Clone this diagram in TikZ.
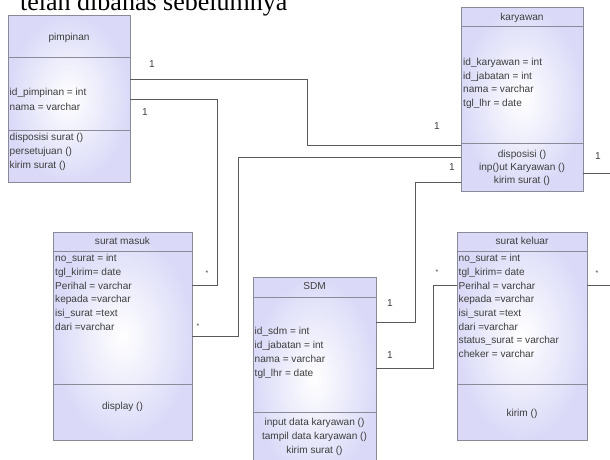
\documentclass[tikz,border=0pt]{standalone}
\usepackage{fontspec}
\setmainfont{Liberation Serif}
\newfontfamily\umlfont{Liberation Sans}
\definecolor{umlfill}{RGB}{218,218,248}
\definecolor{umlline}{RGB}{138,138,152}
\definecolor{linkgray}{RGB}{90,90,90}
\definecolor{umltext}{RGB}{62,62,62}
\begin{document}
\begin{tikzpicture}[x=1pt,y=-1pt,
    classbox/.style={draw=umlline,line width=0.8pt,inner color=white,outer color=umlfill,
      anchor=north west,inner sep=0pt,outer sep=0pt},
    divider/.style={draw=umlline,line width=0.8pt},
    umltxt/.style={font=\umlfont\fontsize{10.1}{13.8}\selectfont,text=umltext,inner sep=0pt},
    attr/.style={umltxt,anchor=base west},
    meth/.style={umltxt,anchor=base},
    link/.style={draw=linkgray,line width=0.8pt},
    mult/.style={umltxt,anchor=center},
    star/.style={font=\umlfont\fontsize{7}{8}\selectfont,text=umltext,inner sep=0pt}]
    \useasboundingbox (0,0) rectangle (610,459);
    \clip (0,0) rectangle (610,459);
    % heading text, cut at the top
    \node[anchor=base west,inner sep=0pt,font=\fontsize{26}{30}\selectfont] (heading) at (20,10) {telah dibahas sebelumnya};
    % classes
    \node[classbox,minimum width=122pt,minimum height=167pt] (pimpinan) at (8,15) {};
    \node[classbox,minimum width=122pt,minimum height=184pt] (karyawan) at (461,7) {};
    \node[classbox,minimum width=139pt,minimum height=208pt] (masuk) at (53,232) {};
    \node[classbox,minimum width=123pt,minimum height=203pt] (sdm) at (253,277) {};
    \node[classbox,minimum width=130pt,minimum height=208pt] (keluar) at (457,232) {};
    % compartments
    \draw[divider] (pimpinan.west |- 0,57) -- (pimpinan.east |- 0,57);
    \draw[divider] (pimpinan.west |- 0,130) -- (pimpinan.east |- 0,130);
    \draw[divider] (karyawan.west |- 0,26) -- (karyawan.east |- 0,26);
    \draw[divider] (karyawan.west |- 0,143) -- (karyawan.east |- 0,143);
    \draw[divider] (masuk.west |- 0,251) -- (masuk.east |- 0,251);
    \draw[divider] (masuk.west |- 0,384) -- (masuk.east |- 0,384);
    \draw[divider] (sdm.west |- 0,297) -- (sdm.east |- 0,297);
    \draw[divider] (sdm.west |- 0,412) -- (sdm.east |- 0,412);
    \draw[divider] (keluar.west |- 0,251) -- (keluar.east |- 0,251);
    \draw[divider] (keluar.west |- 0,384) -- (keluar.east |- 0,384);
    % pimpinan
    \node[meth] (pimpinan-name) at (69,40) {pimpinan};
    \node[attr] (pimpinan-a1) at (9.5,95.5) {id\_pimpinan = int};
    \node[attr] (pimpinan-a2) at (9.5,110) {nama = varchar};
    \node[attr] (pimpinan-m1) at (9.5,140.5) {disposisi surat ()};
    \node[attr] (pimpinan-m2) at (9.5,154) {persetujuan ()};
    \node[attr] (pimpinan-m3) at (9.5,168) {kirim surat ()};
    % karyawan
    \node[meth] (karyawan-name) at (522,20) {karyawan};
    \node[attr] (karyawan-a1) at (463,65) {id\_karyawan = int};
    \node[attr] (karyawan-a2) at (463,79) {id\_jabatan = int};
    \node[attr] (karyawan-a3) at (463,92.5) {nama = varchar};
    \node[attr] (karyawan-a4) at (463,106) {tgl\_lhr = date};
    \node[meth] (karyawan-m1) at (522,157) {disposisi ()};
    \node[meth] (karyawan-m2) at (522,170) {inp()ut Karyawan ()};
    \node[meth] (karyawan-m3) at (522,183) {kirim surat ()};
    % surat masuk
    \node[meth] (masuk-name) at (122.5,244) {surat masuk};
    \node[attr] (masuk-a1) at (55,261) {no\_surat = int};
    \node[attr] (masuk-a2) at (55,275) {tgl\_kirim= date};
    \node[attr] (masuk-a3) at (55,289) {Perihal = varchar};
    \node[attr] (masuk-a4) at (55,302.5) {kepada =varchar};
    \node[attr] (masuk-a5) at (55,316) {isi\_surat =text};
    \node[attr] (masuk-a6) at (55,330) {dari =varchar};
    \node[meth] (masuk-m1) at (122.5,409) {display ()};
    % SDM
    \node[meth] (sdm-name) at (314.5,289.5) {SDM};
    \node[attr] (sdm-a1) at (254.5,334) {id\_sdm = int};
    \node[attr] (sdm-a2) at (254.5,348) {id\_jabatan = int};
    \node[attr] (sdm-a3) at (254.5,362) {nama = varchar};
    \node[attr] (sdm-a4) at (254.5,376) {tgl\_lhr = date};
    \node[meth] (sdm-m1) at (314.5,425) {input data karyawan ()};
    \node[meth] (sdm-m2) at (314.5,439) {tampil data karyawan ()};
    \node[meth] (sdm-m3) at (314.5,453) {kirim surat ()};
    % surat keluar
    \node[meth] (keluar-name) at (522,244) {surat keluar};
    \node[attr] (keluar-a1) at (458.5,261) {no\_surat = int};
    \node[attr] (keluar-a2) at (458.5,275) {tgl\_kirim= date};
    \node[attr] (keluar-a3) at (458.5,289) {Perihal = varchar};
    \node[attr] (keluar-a4) at (458.5,302.5) {kepada =varchar};
    \node[attr] (keluar-a5) at (458.5,316) {isi\_surat =text};
    \node[attr] (keluar-a6) at (458.5,330) {dari =varchar};
    \node[attr] (keluar-a7) at (458.5,343.5) {status\_surat = varchar};
    \node[attr] (keluar-a8) at (458.5,357.5) {cheker = varchar};
    \node[meth] (keluar-m1) at (522,416) {kirim ()};
    % associations
    \coordinate (offKaryawan) at (615,173);
    \coordinate (offKeluar) at (615,285);
    \draw[link] (pimpinan.east |- 0,79) -| (307,145) -- (karyawan.west |- 0,145);
    \draw[link] (pimpinan.east |- 0,99) -| (217,285) -- (masuk.east |- 0,285);
    \draw[link] (masuk.east |- 0,336) -| (238,157) -- (karyawan.west |- 0,157);
    \draw[link] (karyawan.west |- 0,182) -| (415,322) -- (sdm.east |- 0,322);
    \draw[link] (sdm.east |- 0,368) -| (433,285) -- (keluar.west |- 0,285);
    \draw[link] (karyawan.east |- offKaryawan) -- (offKaryawan);
    \draw[link] (keluar.east |- offKeluar) -- (offKeluar);
    % multiplicities
    \node[mult] (m1) at (152,64) {1};
    \node[mult] (m2) at (145,112) {1};
    \node[mult] (m3) at (437,126) {1};
    \node[mult] (m4) at (452,167) {1};
    \node[mult] (m5) at (598,156) {1};
    \node[mult] (m6) at (390,303) {1};
    \node[mult] (m7) at (390,355) {1};
    \node[star] (s1) at (207,273) {*};
    \node[star] (s2) at (198,326) {*};
    \node[star] (s3) at (437,272) {*};
    \node[star] (s4) at (597,273) {*};
\end{tikzpicture}
\end{document}
